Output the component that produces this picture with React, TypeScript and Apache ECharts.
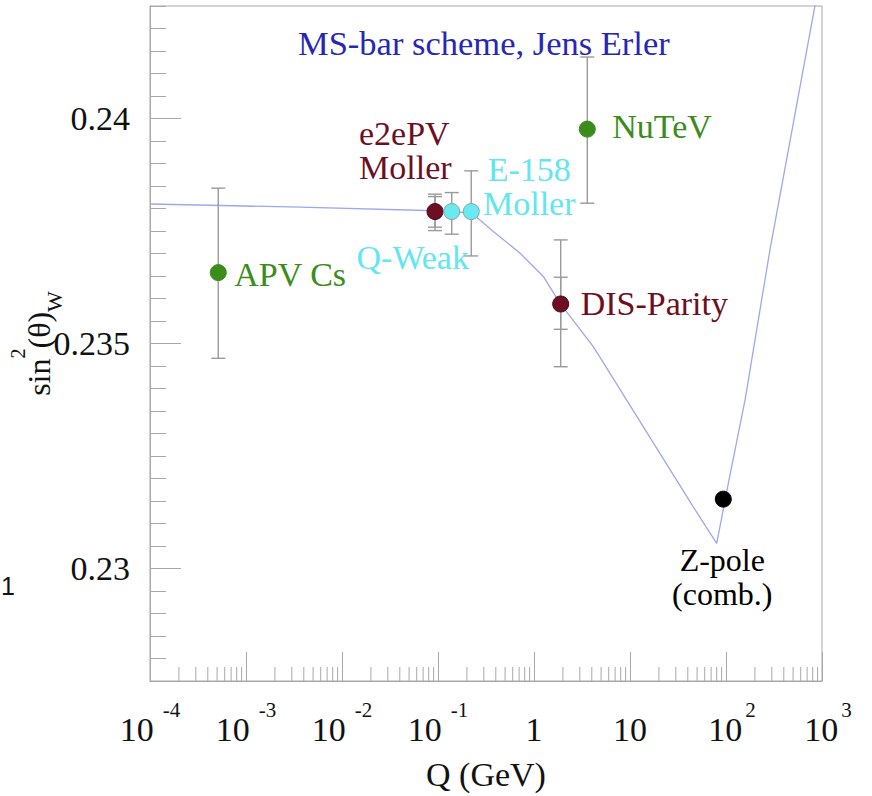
import React, { useEffect, useRef } from 'react';
import * as echarts from 'echarts';

// ---- axis ranges ----
const X_MIN_EXP = -4;
const X_MAX_EXP = 3;
const Y_MIN = 0.2275;
const Y_MAX = 0.2425;
const Y_STEP = 0.0005;

// ---- tick labels ----
const xTickBase = ['10', '10', '10', '10', '1', '10', '10', '10'];
const xTickExp = ['-4', '-3', '-2', '-1', '', '', '2', '3'];
const yMajorValues = [0.23, 0.235, 0.24];
const yMajorLabels = ['0.23', '0.235', '0.24'];

// ---- measurements ----
const pointNames = ['APV Cs', 'e2ePV Moller', 'Q-Weak', 'E-158 Moller', 'NuTeV', 'DIS-Parity', 'Z-pole'];
const pointLabels = ['APV Cs', 'e2ePV\nMoller', 'Q-Weak', 'E-158\nMoller', 'NuTeV', 'DIS-Parity', 'Z-pole\n(comb.)'];
const pointQ = [5.14e-4, 0.0931, 0.139, 0.222, 3.59, 1.897, 93.7];
const pointSin2 = [0.236575, 0.237932, 0.237932, 0.237932, 0.239764, 0.235878, 0.231541];

// ---- error bars (absolute low / high) ----
const errQ = [5.14e-4, 0.0931, 0.0931, 0.139, 0.222, 3.59, 1.897, 1.897];
const errLow = [0.234671, 0.237509, 0.237585, 0.237429, 0.236946, 0.238118, 0.234484, 0.235316];
const errHigh = [0.238452, 0.238319, 0.238265, 0.238354, 0.238837, 0.241366, 0.237302, 0.236472];

// ---- running sin^2(theta_W) curve ----
const curveQ = [1e-4, 3.65e-3, 0.0931, 0.2244, 0.377, 0.714, 1.25, 1.87, 4.15, 9.24, 20.5, 45.6, 80.0, 105.7, 157.8, 287, 845, 1000];
const curveSin2 = [0.2381, 0.23803, 0.23795, 0.2379, 0.23749, 0.23701, 0.23649, 0.23589, 0.23493, 0.23374, 0.23256, 0.23137, 0.23056, 0.23189, 0.23374, 0.23708, 0.24251, 0.24335];

// ---- styles ----
const GREEN = '#3b8c1a';
const MAROON = '#6e0e22';
const CYAN = '#62e6ef';
const GREY = '#a8a8a8';
const SERIF = '"Liberation Serif", "Times New Roman", serif';

const pointStyle: Record<string, any> = {
  'APV Cs': { fill: GREEN, border: GREEN, text: GREEN, align2: 'left', offset: [16, 2], lh: 34 },
  'e2ePV Moller': { fill: MAROON, border: '#4a0914', text: MAROON, align2: 'left', offset: [-76, -61], lh: 34 },
  'Q-Weak': { fill: '#6ae9f1', border: '#7fa3ad', text: CYAN, align2: 'center', offset: [-39, 46], lh: 34 },
  'E-158 Moller': { fill: '#6ae9f1', border: '#7fa3ad', text: CYAN, align2: 'center', offset: [58, -25], lh: 34 },
  'NuTeV': { fill: GREEN, border: GREEN, text: GREEN, align2: 'left', offset: [25, -3], lh: 34 },
  'DIS-Parity': { fill: MAROON, border: '#4a0914', text: MAROON, align2: 'left', offset: [20, 0], lh: 34 },
  'Z-pole': { fill: '#000', border: '#000', text: '#000', align2: 'center', offset: [-1, 78], lh: 34, fs: 32 },
};

export default function App() {
  const ref = useRef<HTMLDivElement>(null);

  useEffect(() => {
    if (!ref.current) return;
    const chart = echarts.init(ref.current, null, { renderer: 'svg' });
    const lx = (q: number) => Math.log10(q);

    const xMinorTicks: number[][] = [];
    for (let e = X_MIN_EXP; e < X_MAX_EXP; e++) {
      for (let k = 2; k <= 9; k++) xMinorTicks.push([e + Math.log10(k), Y_MIN]);
    }

    const scatterData = pointNames.map((n, i) => {
      const s = pointStyle[n];
      return {
        name: n,
        value: [lx(pointQ[i]), pointSin2[i]],
        itemStyle: { color: s.fill, borderColor: s.border, borderWidth: 1, opacity: 1 },
        label: {
          show: true,
          formatter: pointLabels[i],
          position: 'inside',
          align: s.align2,
          verticalAlign: 'middle',
          offset: s.offset,
          color: s.text,
          fontSize: s.fs || 34,
          lineHeight: s.lh,
          fontFamily: SERIF,
        },
      };
    });

    const option: any = {
      animation: false,
      backgroundColor: '#ffffff',
      title: {
        text: 'MS-bar scheme, Jens Erler',
        left: 298,
        top: 25,
        padding: 0,
        textStyle: { fontSize: 34.5, fontWeight: 'normal', color: '#2727b5', fontFamily: SERIF },
      },
      grid: {
        left: 150,
        right: 50,
        top: 6,
        bottom: 115,
        show: true,
        borderColor: GREY,
        borderWidth: 1,
        containLabel: false,
        outerBoundsMode: 'none',
      },
      xAxis: {
        type: 'value',
        min: X_MIN_EXP,
        max: X_MAX_EXP,
        interval: 1,
        name: 'Q (GeV)',
        nameLocation: 'middle',
        nameGap: 76,
        nameMoveOverlap: false,
        nameTextStyle: { fontSize: 34, color: '#111', fontFamily: SERIF },
        splitLine: { show: false },
        axisLine: { show: true, onZero: false, lineStyle: { color: GREY, width: 1 } },
        axisTick: { show: true, inside: true, length: 29, lineStyle: { color: GREY, width: 1 } },
        axisLabel: {
          show: true,
          margin: 18,
          showMinLabel: true,
          showMaxLabel: true,
          color: '#111',
          fontFamily: SERIF,
          formatter: (v: number) => {
            const idx = Math.round(v) - X_MIN_EXP;
            const base = xTickBase[idx];
            const ex = xTickExp[idx];
            if (base === undefined) return '';
            if (!ex) return `{b|${base}}`;
            if (ex.startsWith('-')) return `{b|${base}}{sn|${ex}}`;
            return `{bp|${base}}{sp|${ex}}`;
          },
          rich: {
            b: { fontSize: 34, lineHeight: 60, verticalAlign: 'middle', fontFamily: SERIF, color: '#111' },
            bp: { fontSize: 34, lineHeight: 60, verticalAlign: 'middle', padding: [0, 0, 0, 12], fontFamily: SERIF, color: '#111' },
            sn: { fontSize: 21, lineHeight: 21, verticalAlign: 'top', padding: [0, 0, 0, 9], fontFamily: SERIF, color: '#111' },
            sp: { fontSize: 21, lineHeight: 21, verticalAlign: 'top', padding: [0, 0, 0, 3], fontFamily: SERIF, color: '#111' },
          },
        },
      },
      yAxis: {
        type: 'value',
        min: Y_MIN,
        max: Y_MAX,
        interval: Y_STEP,
        name: '{a|sin}{p|2}{a|(θ)}{w|W}',
        nameLocation: 'middle',
        nameGap: 80,
        nameMoveOverlap: false,
        nameTextStyle: {
          color: '#111',
          fontFamily: SERIF,
          rich: {
            a: { fontSize: 32, lineHeight: 62, verticalAlign: 'middle', fontFamily: SERIF, color: '#111' },
            p: { fontSize: 20, lineHeight: 20, verticalAlign: 'top', fontFamily: SERIF, color: '#111' },
            w: { fontSize: 22, lineHeight: 22, verticalAlign: 'bottom', padding: [0, 0, 5, 0], fontFamily: SERIF, color: '#111' },
          },
        },
        splitLine: { show: false },
        axisLine: { show: true, onZero: false, lineStyle: { color: GREY, width: 1 } },
        axisTick: { show: true, inside: true, length: 16, lineStyle: { color: GREY, width: 1 } },
        axisLabel: {
          show: true,
          margin: 20,
          fontSize: 34,
          color: '#111',
          fontFamily: SERIF,
          formatter: (v: number) => {
            for (let i = 0; i < yMajorValues.length; i++) {
              if (Math.abs(v - yMajorValues[i]) < 1e-7) return yMajorLabels[i];
            }
            return '';
          },
        },
      },
      graphic: [
        {
          type: 'text',
          left: 1,
          top: 573,
          style: { text: '1', fontSize: 25, fontFamily: '"Liberation Sans", Arial, sans-serif', fill: '#111' },
        },
      ],
      series: [
        {
          name: 'x minor ticks',
          type: 'custom',
          silent: true,
          clip: false,
          z: 1,
          data: xMinorTicks,
          renderItem: (params: any, api: any) => {
            const p = api.coord([api.value(0), Y_MIN]);
            return {
              type: 'line',
              shape: { x1: p[0], y1: p[1], x2: p[0], y2: p[1] - 14 },
              style: { stroke: GREY, lineWidth: 1 },
            };
          },
        },
        {
          name: 'y major ticks',
          type: 'custom',
          silent: true,
          clip: false,
          z: 1,
          data: yMajorValues.map((v) => [X_MIN_EXP, v]),
          renderItem: (params: any, api: any) => {
            const p = api.coord([X_MIN_EXP, api.value(1)]);
            return {
              type: 'line',
              shape: { x1: p[0], y1: p[1], x2: p[0] + 31, y2: p[1] },
              style: { stroke: GREY, lineWidth: 1 },
            };
          },
        },
        {
          name: 'theory',
          type: 'line',
          data: curveQ.map((q, i) => [lx(q), curveSin2[i]]),
          showSymbol: false,
          symbol: 'none',
          clip: true,
          z: 2,
          lineStyle: { color: '#9ea8ec', width: 1.3 },
          silent: true,
        },
        {
          name: 'errors',
          type: 'custom',
          silent: true,
          z: 3,
          data: errQ.map((q, i) => [lx(q), errLow[i], errHigh[i]]),
          renderItem: (params: any, api: any) => {
            const x = api.value(0);
            const lo = api.coord([x, api.value(1)]);
            const hi = api.coord([x, api.value(2)]);
            const st = { stroke: '#9a9a9a', lineWidth: 1.4 };
            return {
              type: 'group',
              children: [
                { type: 'line', shape: { x1: lo[0], y1: lo[1], x2: hi[0], y2: hi[1] }, style: st },
                { type: 'line', shape: { x1: lo[0] - 7, y1: lo[1], x2: lo[0] + 7, y2: lo[1] }, style: st },
                { type: 'line', shape: { x1: hi[0] - 7, y1: hi[1], x2: hi[0] + 7, y2: hi[1] }, style: st },
              ],
            };
          },
        },
        {
          name: 'measurements',
          type: 'scatter',
          symbol: 'circle',
          symbolSize: 16,
          z: 4,
          itemStyle: { opacity: 1 },
          data: scatterData,
        },
      ],
    };

    chart.setOption(option);
    return () => chart.dispose();
  }, []);

  return (
    <div
      ref={ref}
      style={{ position: 'fixed', left: 0, top: 0, width: 872, height: 796, background: '#fff' }}
    />
  );
}
